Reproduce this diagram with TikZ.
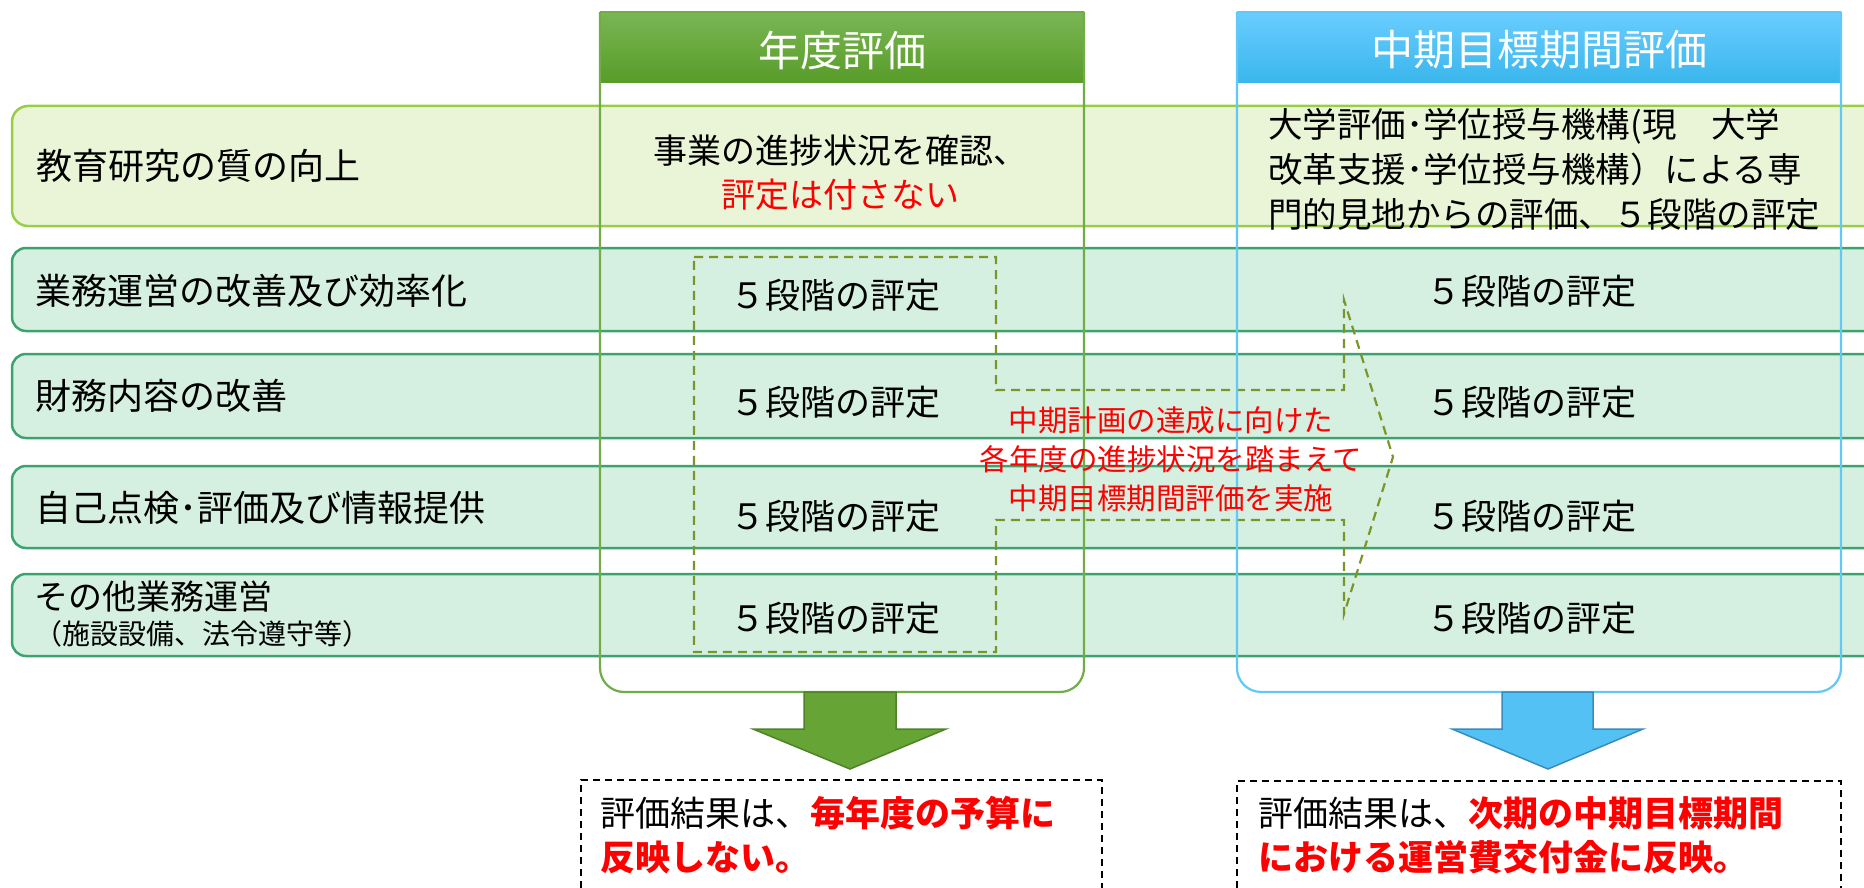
\documentclass[tikz,border=0pt]{standalone}
\usepackage{fontspec}
\setmainfont{Noto Sans CJK JP}
\definecolor{gcol}{RGB}{112,173,71}
\definecolor{ghtop}{RGB}{122,182,85}
\definecolor{ghbot}{RGB}{88,156,40}
\definecolor{bcol}{RGB}{98,200,245}
\definecolor{bhtop}{RGB}{105,205,255}
\definecolor{bhbot}{RGB}{58,182,236}
\definecolor{raline}{RGB}{150,206,70}
\definecolor{rafill}{RGB}{234,245,216}
\definecolor{rbline}{RGB}{60,163,110}
\definecolor{rbfill}{RGB}{213,240,225}
\definecolor{olive}{RGB}{122,150,40}
\definecolor{redtxt}{RGB}{255,0,0}
\definecolor{garrow}{RGB}{102,164,54}
\definecolor{garrowline}{RGB}{78,130,38}
\definecolor{barrow}{RGB}{84,193,245}
\definecolor{barrowline}{RGB}{55,140,190}
\begin{document}
\begin{tikzpicture}[x=1pt,y=-1pt,
  rowa/.style={draw=raline,fill=rafill,line width=2.5pt,rounded corners=16pt},
  rowb/.style={draw=rbline,fill=rbfill,line width=2.5pt,rounded corners=14pt},
  colg/.style={draw=gcol,line width=2.2pt,rounded corners=24pt},
  colb/.style={draw=bcol,line width=2.2pt,rounded corners=24pt},
  olivedash/.style={draw=olive,line width=2.2pt,dash pattern=on 9pt off 6pt},
  resbox/.style={draw=black,line width=1.6pt,dash pattern=on 7pt off 5pt},
  lbl/.style={anchor=west,inner sep=0pt,font=\fontsize{36}{42}\selectfont},
  cell/.style={inner sep=0pt,font=\fontsize{35}{42}\selectfont},
  hdr/.style={inner sep=0pt,text=white,font=\fontsize{42}{48}\selectfont},
  redmid/.style={inner sep=0pt,text=redtxt,align=center,font=\fontsize{29.5}{39}\selectfont},
  restxt/.style={anchor=north west,inner sep=0pt,align=left,font=\fontsize{35}{44}\selectfont}]
\useasboundingbox (0,0) rectangle (1864,888);
\clip (0,0) rectangle (1864,888);
% rows
\draw[rowa] (12,106) rectangle (1900,226);
\draw[rowb] (12,248) rectangle (1900,331);
\draw[rowb] (12,354) rectangle (1900,438);
\draw[rowb] (12,466) rectangle (1900,548);
\draw[rowb] (12,574) rectangle (1900,656);
% dashed block arrow
\draw[olivedash] (694,257) -- (996,257) -- (996,390) -- (1344,390) -- (1344,300)
  -- (1393,457) -- (1344,614) -- (1344,520) -- (996,520) -- (996,652) -- (694,652) -- cycle;
% columns
\shade[top color=ghtop,bottom color=ghbot] (600,12) rectangle (1084,83);
\draw[colg] (600,12) -- (600,692) -- (1084,692) -- (1084,12);
\draw[gcol,line width=2.2pt] (600,12) -- (1084,12);
\shade[top color=bhtop,bottom color=bhbot] (1237,12) rectangle (1841,83);
\draw[colb] (1237,12) -- (1237,692) -- (1841,692) -- (1841,12);
\draw[bcol,line width=2.2pt] (1237,12) -- (1841,12);
\node[hdr] (hg) at (842,50) {年度評価};
\node[hdr] (hb) at (1539,50) {中期目標期間評価};
% row labels
\node[lbl] (l1) at (36,166) {教育研究の質の向上};
\node[lbl] (l2) at (35,291) {業務運営の改善及び効率化};
\node[lbl] (l3) at (35,396) {財務内容の改善};
\node[lbl] (l4) at (35,508) {自己点検･評価及び情報提供};
\node[lbl,font=\fontsize{34}{38}\selectfont] (l5) at (34,597) {その他業務運営};
\node[lbl,font=\fontsize{28}{34}\selectfont] (l5b) at (34,634) {（施設設備、法令遵守等）};
% annual column
\node[cell,align=center,font=\fontsize{34}{44}\selectfont] (g1) at (840,173) {事業の進捗状況を確認、\\\textcolor{redtxt}{評定は付さない}};
\node[cell] (g2) at (835,295) {５段階の評定};
\node[cell] (g3) at (835,402) {５段階の評定};
\node[cell] (g4) at (835,516) {５段階の評定};
\node[cell] (g5) at (835,618) {５段階の評定};
% mid-term column
\node[cell,anchor=west,align=left,font=\fontsize{34.5}{45}\selectfont] (b1) at (1268,169) {大学評価･学位授与機構(現　大学\\改革支援･学位授与機構）による専\\門的見地からの評価、５段階の評定};
\node[cell] (b2) at (1531,291) {５段階の評定};
\node[cell] (b3) at (1531,402) {５段階の評定};
\node[cell] (b4) at (1531,516) {５段階の評定};
\node[cell] (b5) at (1531,618) {５段階の評定};
% middle red text
\node[redmid] (mid) at (1171,459) {中期計画の達成に向けた\\各年度の進捗状況を踏まえて\\中期目標期間評価を実施};
% block arrows
\draw[fill=garrow,draw=garrowline,line width=1.5pt] (804,692) -- (896,692) -- (896,729) -- (946,729) -- (850,769) -- (753,729) -- (804,729) -- cycle;
\draw[fill=barrow,draw=barrowline,line width=1.5pt] (1502,692) -- (1593,692) -- (1593,729) -- (1643,729) -- (1548,769) -- (1452,729) -- (1502,729) -- cycle;
% result boxes
\draw[resbox] (581,900) -- (581,780) -- (1102,780) -- (1102,900);
\draw[resbox] (1237,900) -- (1237,781) -- (1841,781) -- (1841,900);
\node[restxt] (r1) at (600,796) {評価結果は、\textcolor{redtxt}{\bfseries 毎年度の予算に}\\\textcolor{redtxt}{\bfseries 反映しない。}};
\node[restxt] (r2) at (1258,796) {評価結果は、\textcolor{redtxt}{\bfseries 次期の中期目標期間}\\\textcolor{redtxt}{\bfseries における運営費交付金に反映。}};
\end{tikzpicture}
\end{document}
